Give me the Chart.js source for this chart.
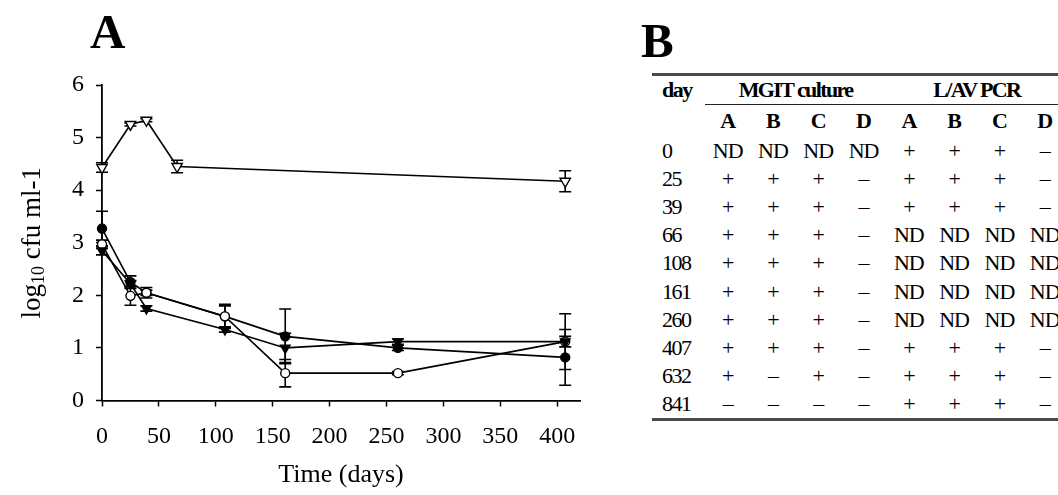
<!DOCTYPE html>
<html>

<head>
    <meta charset="utf-8">
    <title>log10 cfu ml-1 over time, MGIT culture and L/AV PCR</title>
    <style type="text/css">
        html, body {
            margin: 0;
            padding: 0;
            background: #fff;
            overflow: hidden;
        }

        body {
            width: 1058px;
            height: 495px;
            position: relative;
            font-family: "Liberation Serif", "Times New Roman", serif;
            color: #000;
        }

        .panel {
            position: absolute;
            font-weight: bold;
            font-size: 49px;
            line-height: 49px;
        }

        #chart-container {
            position: absolute;
            left: 0;
            top: 0;
            width: 600px;
            height: 495px;
        }

        #tbl {
            position: absolute;
            left: 652px;
            top: 73px;
            width: 406px;
            overflow: hidden;
            display: grid;
            grid-template-columns: 53px repeat(8, 45.3px);
            grid-template-rows: 3px 27.5px 1.5px 32px repeat(10, 28.1px) 3px;
            font-size: 22px;
            line-height: 22px;
            letter-spacing: -1px;
        }

        #tbl .rule {
            background: #4a4a4a;
        }

        #tbl .sub {
            background: #222;
        }

        #tbl .c {
            display: flex;
            align-items: center;
            justify-content: center;
            white-space: nowrap;
        }

        #tbl .day {
            justify-content: flex-start;
            padding-left: 10px;
            letter-spacing: -1.5px;
        }

        #tbl .b {
            font-weight: bold;
        }

        #tbl .grp {
            font-weight: bold;
            letter-spacing: -1.6px;
        }
    </style>
    <script type="text/javascript" src="https://cdn.jsdelivr.net/npm/chart.js@4.4.1/dist/chart.umd.min.js"></script>
</head>

<body>
    <div class="panel" style="left:90px; top:7px;">A</div>
    <div class="panel" style="left:641px; top:16px;">B</div>

    <div id="chart-container">
        <canvas id="graphCanvas"></canvas>
    </div>

    <div id="tbl"></div>

    <script>
        // panel A data (days, log10 cfu/ml, +/- error)
        const upperDays = [0, 25, 39, 66, 407];
        const lowerDays = [0, 25, 39, 108, 161, 260, 407];

        const openTriangle = [4.43, 5.25, 5.33, 4.45, 4.17];
        const openTriangleErr = [0.09, 0.03, 0.03, 0.12, 0.2];

        const filledCircle = [3.27, 2.25, 2.05, 1.6, 1.22, 1.0, 0.82];
        const filledCircleErr = [0.33, 0.12, 0.05, 0.2, 0.52, 0.05, 0.53];

        const openCircle = [2.97, 1.99, 2.05, 1.6, 0.52, 0.52, 1.12];
        const openCircleErr = [0.08, 0.18, 0.1, 0.23, 0.26, 0.03, 0.1];

        const filledTriangle = [2.85, 2.22, 1.75, 1.35, 1.0, 1.12, 1.12];
        const filledTriangleErr = [0.08, 0.06, 0.05, 0.05, 0.28, 0.05, 0.53];

        const xTicks = [0, 50, 100, 150, 200, 250, 300, 350, 400];
        const yTicks = [0, 1, 2, 3, 4, 5, 6];

        // panel B data
        const groups = ['MGIT culture', 'L/AV PCR'];
        const subCols = ['A', 'B', 'C', 'D'];
        const days = [0, 25, 39, 66, 108, 161, 260, 407, 632, 841];
        const mgit = [
            ['ND', 'ND', 'ND', 'ND'],
            ['+', '+', '+', '–'],
            ['+', '+', '+', '–'],
            ['+', '+', '+', '–'],
            ['+', '+', '+', '–'],
            ['+', '+', '+', '–'],
            ['+', '+', '+', '–'],
            ['+', '+', '+', '–'],
            ['+', '–', '+', '–'],
            ['–', '–', '–', '–']
        ];
        const pcr = [
            ['+', '+', '+', '–'],
            ['+', '+', '+', '–'],
            ['+', '+', '+', '–'],
            ['ND', 'ND', 'ND', 'ND'],
            ['ND', 'ND', 'ND', 'ND'],
            ['ND', 'ND', 'ND', 'ND'],
            ['ND', 'ND', 'ND', 'ND'],
            ['+', '+', '+', '–'],
            ['+', '+', '+', '–'],
            ['+', '+', '+', '–']
        ];

        function pts(xs, ys) {
            return xs.map((d, i) => ({ x: d, y: ys[i] }));
        }

        // error bars drawn under the lines/markers
        const errorBars = {
            id: 'errorBars',
            beforeDatasetsDraw(chart) {
                const ctx = chart.ctx;
                const x = chart.scales.x, y = chart.scales.y;
                ctx.save();
                ctx.strokeStyle = '#000';
                ctx.lineWidth = 1.6;
                chart.data.datasets.forEach(ds => {
                    ds.data.forEach((p, i) => {
                        const e = ds.errors[i];
                        if (!e) return;
                        const px = x.getPixelForValue(p.x);
                        const top = y.getPixelForValue(p.y + e);
                        const bot = y.getPixelForValue(p.y - e);
                        ctx.beginPath();
                        ctx.moveTo(px, top); ctx.lineTo(px, bot);
                        ctx.moveTo(px - 6, top); ctx.lineTo(px + 6, top);
                        ctx.moveTo(px - 6, bot); ctx.lineTo(px + 6, bot);
                        ctx.stroke();
                    });
                });
                ctx.restore();
            }
        };

        // y title with subscript "10"
        const yTitle = {
            id: 'yTitle',
            afterDraw(chart) {
                const ctx = chart.ctx;
                const area = chart.chartArea;
                const parts = [['log', 27, 0], ['10', 18, 4], [' cfu ml-1', 27, 0]];
                ctx.save();
                let total = 0;
                parts.forEach(p => {
                    ctx.font = p[1] + 'px "Liberation Serif"';
                    total += ctx.measureText(p[0]).width;
                });
                ctx.translate(40, (area.top + area.bottom) / 2);
                ctx.rotate(-Math.PI / 2);
                ctx.fillStyle = '#000';
                ctx.textBaseline = 'alphabetic';
                let cx = -total / 2;
                parts.forEach(p => {
                    ctx.font = p[1] + 'px "Liberation Serif"';
                    ctx.fillText(p[0], cx, p[2]);
                    cx += ctx.measureText(p[0]).width;
                });
                ctx.restore();
            }
        };

        const lineBase = {
            showLine: true,
            borderColor: '#000',
            borderWidth: 1.6,
            pointBorderColor: '#000',
            pointBorderWidth: 1.4,
            clip: false
        };

        // first dataset is drawn on top
        const chartdata = {
            datasets: [
                Object.assign({}, lineBase, {
                    label: 'open triangle',
                    data: pts(upperDays, openTriangle),
                    errors: openTriangleErr,
                    pointStyle: 'triangle',
                    pointRotation: 180,
                    pointRadius: 6,
                    pointBackgroundColor: '#fff'
                }),
                Object.assign({}, lineBase, {
                    label: 'filled triangle',
                    data: pts(lowerDays, filledTriangle),
                    errors: filledTriangleErr,
                    pointStyle: 'triangle',
                    pointRotation: 180,
                    pointRadius: 5.5,
                    pointBackgroundColor: '#000'
                }),
                Object.assign({}, lineBase, {
                    label: 'open circle',
                    data: pts(lowerDays, openCircle),
                    errors: openCircleErr,
                    pointStyle: 'circle',
                    pointRadius: 4.5,
                    pointBackgroundColor: '#fff'
                }),
                Object.assign({}, lineBase, {
                    label: 'filled circle',
                    data: pts(lowerDays, filledCircle),
                    errors: filledCircleErr,
                    pointStyle: 'circle',
                    pointRadius: 4.5,
                    pointBackgroundColor: '#000'
                })
            ]
        };

        const tickFont = { family: '"Liberation Serif"', size: 24 };

        new Chart(document.getElementById('graphCanvas'), {
            type: 'scatter',
            data: chartdata,
            plugins: [errorBars, yTitle],
            options: {
                responsive: true,
                maintainAspectRatio: false,
                animation: false,
                layout: { padding: { top: 85, right: 20, left: 0, bottom: 0 } },
                plugins: {
                    legend: { display: false },
                    tooltip: { enabled: false }
                },
                scales: {
                    x: {
                        type: 'linear',
                        min: 0,
                        max: 420,
                        afterFit(scale) { scale.height = 94.5; },
                        afterBuildTicks(scale) { scale.ticks = xTicks.map(v => ({ value: v })); },
                        ticks: { color: '#000', font: tickFont, padding: 16, maxRotation: 0 },
                        grid: { drawOnChartArea: false, tickLength: 6, tickColor: '#000', tickWidth: 1.5 },
                        border: { color: '#000', width: 1.8 },
                        title: {
                            display: true,
                            text: 'Time (days)',
                            color: '#000',
                            font: { family: '"Liberation Serif"', size: 26 },
                            padding: { top: 0, bottom: 4 }
                        }
                    },
                    y: {
                        min: 0,
                        max: 6,
                        afterFit(scale) { scale.width = 102; },
                        afterBuildTicks(scale) { scale.ticks = yTicks.map(v => ({ value: v })); },
                        ticks: { color: '#000', font: tickFont, padding: 12 },
                        grid: { drawOnChartArea: false, tickLength: 6, tickColor: '#000', tickWidth: 1.5 },
                        border: { color: '#000', width: 1.8 }
                    }
                }
            }
        });

        // table B
        const tbl = document.getElementById('tbl');
        function cell(text, cls, col, row) {
            const d = document.createElement('div');
            d.className = cls;
            d.textContent = text;
            d.style.gridColumn = col;
            d.style.gridRow = row;
            tbl.appendChild(d);
        }
        cell('', 'rule', '1 / -1', 1);
        cell('day', 'c day b', 1, 2);
        cell(groups[0], 'c grp', '2 / 6', 2);
        cell(groups[1], 'c grp', '6 / 10', 2);
        cell('', 'sub', '2 / -1', 3);
        subCols.concat(subCols).forEach((s, i) => cell(s, 'c b', i + 2, 4));
        days.forEach((d, r) => {
            cell(String(d), 'c day', 1, r + 5);
            mgit[r].concat(pcr[r]).forEach((v, i) => cell(v, 'c', i + 2, r + 5));
        });
        cell('', 'rule', '1 / -1', days.length + 5);
    </script>

</body>

</html>
